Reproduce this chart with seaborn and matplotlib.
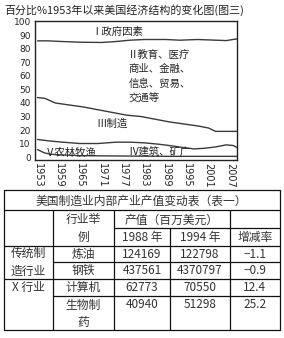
import matplotlib
matplotlib.use("Agg")
import matplotlib.pyplot as plt
import seaborn as sns
import pandas as pd

sns.set_style("white")
plt.rcParams['font.family'] = ['Noto Sans CJK SC', 'DejaVu Sans']

# ---- chart data (boundaries between sectors, percent) ----
gov_years = [1953, 1956, 1960, 1965, 1971, 1975, 1979, 1983, 1989, 1993, 1998, 2003, 2006, 2009]
gov_vals = [86, 86, 85.5, 85, 84.8, 85.5, 86.5, 87, 87, 86.5, 87, 86.5, 86.2, 87.5]

mfg_years = [1953, 1955, 1958, 1962, 1966, 1970, 1974, 1978, 1982, 1986, 1990, 1994, 1998, 2001, 2003, 2009]
mfg_vals = [44, 43.5, 40, 38.5, 37, 35, 33, 31, 30, 28, 26, 24.5, 23, 21.5, 19, 19]

con_years = [1953, 1956, 1960, 1965, 1970, 1975, 1979, 1983, 1987, 1990, 1994, 1997, 2000, 2003, 2006, 2008, 2009]
con_vals = [13, 12, 11, 10, 10, 11, 11, 10.5, 9.5, 8.5, 7, 6, 6.5, 7.5, 9, 8.5, 7]

agr_years = [1953, 1955, 1957, 1960, 1965, 1975, 1990, 2009]
agr_vals = [5.5, 3, 2, 1.5, 1, 0.8, 0.5, 0.5]

x_ticks = [1953, 1959, 1965, 1971, 1977, 1983, 1989, 1995, 2001, 2007]
y_ticks = [0, 10, 20, 30, 40, 50, 60, 70, 80, 90, 100]

chart_title = "百分比%1953年以来美国经济结构的变化图(图三)"
region_labels = ["Ⅰ政府因素", "Ⅱ教育、医疗\n商业、金融、\n信息、贸易、\n交通等", "Ⅲ制造", "Ⅳ建筑、矿广", "Ⅴ农林牧渔"]

# ---- table data ----
table_title = "美国制造业内部产业产值变动表（表一）"
group_names = ["传统制\n造行业", "X 行业"]
industries = ["炼油", "钢铁", "计算机", "生物制\n药"]
value_1988 = ["124169", "437561", "62773", "40940"]
value_1994 = ["122798", "4370797", "70550", "51298"]
change_rate = ["−1.1", "−0.9", "12.4", "25.2"]

W, H = 284, 338
fig = plt.figure(figsize=(W / 100, H / 100), dpi=100)

ax = fig.add_axes([35 / W, 1 - 160 / H, 202 / W, 139 / H])
line_color = "#3a3a3a"
for xs, ys in [(gov_years, gov_vals), (mfg_years, mfg_vals), (con_years, con_vals), (agr_years, agr_vals)]:
    df = pd.DataFrame({"year": xs, "pct": ys})
    sns.lineplot(data=df, x="year", y="pct", ax=ax, color=line_color, linewidth=1.0)

ax.set_xlim(1952.3, 2009)
ax.set_ylim(-2.2, 100.7)
ax.set_xticks(x_ticks)
ax.set_xticklabels([str(t) for t in x_ticks], rotation=270, fontsize=7, family="DejaVu Sans")
ax.set_yticks(y_ticks)
ax.set_yticklabels([str(t) for t in y_ticks], fontsize=6.5, family="DejaVu Sans")
ax.tick_params(axis="both", length=0)
ax.tick_params(axis="x", pad=2)
ax.tick_params(axis="y", pad=3)
ax.set_xlabel("")
ax.set_ylabel("")
for s in ax.spines.values():
    s.set_color("#222222")
    s.set_linewidth(1.0)

lab_kw = dict(fontsize=7.5, color="#222222")
ax.text(1975.5, 93, region_labels[0], ha="center", va="center", **lab_kw)
ax.text(1978.5, 79.5, region_labels[1], ha="left", va="top", linespacing=1.55, **lab_kw)
ax.text(1974, 25, region_labels[2], ha="center", va="center", **lab_kw)
ax.text(1978.5, 3.7, region_labels[3], ha="left", va="center", **lab_kw)
ax.text(1955, 3, region_labels[4], ha="left", va="center", **lab_kw)

fig.text(4 / W, 1 - 10 / H, chart_title, ha="left", va="center", fontsize=7.9, color="#222222")

# ---- table ----
tax = fig.add_axes([0, 0, 1, 1])
tax.set_xlim(0, W)
tax.set_ylim(H, 0)
tax.axis("off")

xL, x1, x2, x3, x4, xR = 3.5, 53, 114, 170, 230, 279.5
yT, yA, yB, yC = 190, 210, 228, 246
rows = [246, 262, 279, 296, 330]
lk = dict(color="#111111", linewidth=0.9, solid_capstyle="butt")

# outer box and grid
tax.plot([xL, xR, xR, xL, xL], [yT, yT, rows[-1], rows[-1], yT], **lk)
tax.plot([xL, xR], [yA, yA], **lk)
tax.plot([x2, xR], [yB, yB], **lk)
tax.plot([xL, xR], [yC, yC], **lk)
tax.plot([x1, xR], [rows[1], rows[1]], **lk)
tax.plot([xL, xR], [rows[2], rows[2]], **lk)
tax.plot([x1, xR], [rows[3], rows[3]], **lk)
tax.plot([x1, x1], [yA, rows[-1]], **lk)
tax.plot([x2, x2], [yA, rows[-1]], **lk)
tax.plot([x3, x3], [yB, rows[-1]], **lk)
tax.plot([x4, x4], [yA, rows[-1]], **lk)

tk = dict(fontsize=8.5, color="#333333", ha="center", va="center")
tax.text((xL + xR) / 2, 201, table_title, **tk)
tax.text((x1 + x2) / 2, (yA + yC) / 2, "行业举\n例", linespacing=1.5, **tk)
tax.text((x2 + x4) / 2, 220, "产值（百万美元）", **tk)
tax.text((x2 + x3) / 2, 237.5, "1988 年", **tk)
tax.text((x3 + x4) / 2, 237.5, "1994 年", **tk)
tax.text((x4 + xR) / 2, 237.5, "增减率", **tk)

tax.text((xL + x1) / 2, (rows[0] + rows[2]) / 2, group_names[0], linespacing=1.5, **tk)
tax.text((xL + x1) / 2, (rows[2] + rows[3]) / 2, group_names[1], **tk)

for i in range(4):
    top = rows[i]
    bot = rows[i + 1]
    if i < 3:
        cy = (top + bot) / 2
        tax.text((x1 + x2) / 2, cy, industries[i], **tk)
    else:
        cy = top + 9
        for j, part in enumerate(industries[i].split("\n")):
            tax.text((x1 + x2) / 2, cy + 17 * j, part, **tk)
    tax.text((x2 + x3) / 2, cy, value_1988[i], **tk)
    tax.text((x3 + x4) / 2, cy, value_1994[i], **tk)
    tax.text((x4 + xR) / 2, cy, change_rate[i], **tk)

fig.savefig("out.png", dpi=100)
